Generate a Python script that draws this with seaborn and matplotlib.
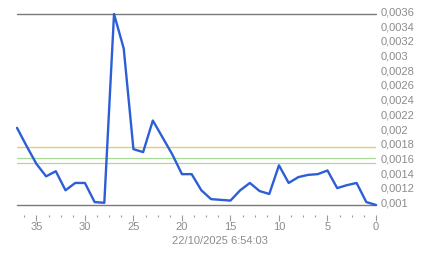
import matplotlib
matplotlib.use("Agg")
import matplotlib.pyplot as plt
import matplotlib.transforms as mtransforms
from matplotlib.ticker import MultipleLocator, FuncFormatter
import seaborn as sns
import pandas as pd

# data: age index (37 = oldest ... 0 = most recent) and values
age = list(range(37, -1, -1))
values = [0.00205, 0.00180, 0.00156, 0.00139, 0.00146, 0.00120, 0.00130, 0.00130,
          0.00104, 0.00103, 0.00360, 0.00313, 0.00176, 0.00172, 0.00215, 0.00192,
          0.00169, 0.00142, 0.00142, 0.00120, 0.00108, 0.00107, 0.00106, 0.00120,
          0.00130, 0.00119, 0.00115, 0.00154, 0.00130, 0.00138, 0.00141, 0.00142,
          0.00147, 0.00123, 0.00127, 0.00130, 0.00104, 0.00100]
ref_max = 0.0036
ref_min = 0.0010
yellow_level = 0.001785
green_levels = [0.001635, 0.00157]
timestamp = "22/10/2025 6:54:03"

sns.set_style("white")
plt.rcParams['font.family'] = ['Liberation Sans', 'DejaVu Sans']

df = pd.DataFrame({"age": age, "value": values})

fig = plt.figure(figsize=(4.43, 2.58), dpi=100)
ax = fig.add_axes([17/443, 1-205/258, (376-17)/443, (205-14)/258])

gray = "#8c8c8c"
ax.axhline(yellow_level, color="#e2d06a", lw=1.0, zorder=1)
for g in green_levels:
    ax.axhline(g, color="#a8dc98", lw=0.9, zorder=1)
ax.axhline(ref_max, color="#7a7a7a", lw=1.0, zorder=1, clip_on=False)
ax.axhline(ref_min, color="#7a7a7a", lw=1.0, zorder=1, clip_on=False)

sns.lineplot(data=df, x="age", y="value", ax=ax, color="#2c5fd6", lw=1.7,
             zorder=3, clip_on=False)

ax.set_xlim(37, 0)
ax.set_ylim(ref_min, ref_max)
ax.set_xlabel("")
ax.set_ylabel("")

for s in ["top", "left", "right"]:
    ax.spines[s].set_visible(False)
ax.spines["bottom"].set_position(("outward", 7))
ax.spines["bottom"].set_color("none")

ax.xaxis.set_major_locator(MultipleLocator(5))
ax.xaxis.set_minor_locator(MultipleLocator(1.25))
ax.tick_params(axis="x", which="major", length=4, width=0.8, color="#999999",
               labelsize=8, labelcolor=gray, pad=1.5, bottom=True)
ax.tick_params(axis="x", which="minor", length=1.5, width=0.8, color="#999999",
               bottom=True)

ax.yaxis.tick_right()
ax.yaxis.set_major_locator(MultipleLocator(0.0002))
def fmt(v, pos):
    s = ("%.4f" % v).rstrip("0")
    return s.replace(".", ",")
ax.yaxis.set_major_formatter(FuncFormatter(fmt))
ax.tick_params(axis="y", length=0, labelsize=8, labelcolor=gray, pad=3)
offset = mtransforms.ScaledTranslation(0, 2.5/100, fig.dpi_scale_trans)
for lab in ax.get_yticklabels():
    lab.set_transform(lab.get_transform() + offset)

ax.grid(False)
fig.text(220/443, 1-241/258, timestamp, ha="center", va="center",
         fontsize=8, color=gray)

fig.savefig("out.png", dpi=100)
